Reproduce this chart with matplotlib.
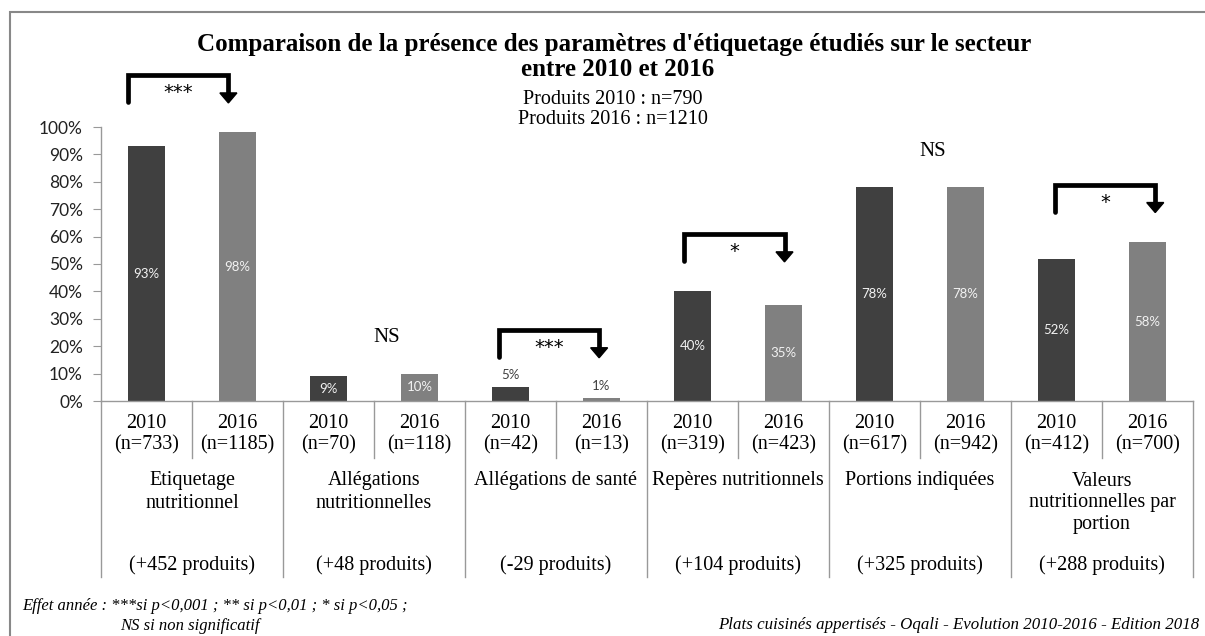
import numpy as np
import matplotlib
matplotlib.use("Agg")
from matplotlib import pyplot as plt
from matplotlib.patches import Rectangle
from matplotlib.ticker import FuncFormatter

# data
categories = ["Etiquetage\nnutritionnel", "Allégations\nnutritionnelles", "Allégations de santé",
              "Repères nutritionnels", "Portions indiquées", "Valeurs\nnutritionnelles par\nportion"]
pct_2010 = [93, 9, 5, 40, 78, 52]
pct_2016 = [98, 10, 1, 35, 78, 58]
n_2010 = [733, 70, 42, 319, 617, 412]
n_2016 = [1185, 118, 13, 423, 942, 700]
diff_labels = ["(+452 produits)", "(+48 produits)", "(-29 produits)",
               "(+104 produits)", "(+325 produits)", "(+288 produits)"]
signif = ["***", "NS", "***", "*", "NS", "*"]
years = ["2010", "2016"]

W, H = 1205, 636
SERIF = "Liberation Serif"
SANS = "Lato"
C2010 = "#404040"
C2016 = "#808080"
GRID = "#999999"

fig = plt.figure(figsize=(W / 100, H / 100), dpi=100)

# axes box in pixels: left 101, right 1193, baseline 401, 100% at 127
x0, x1, y0, y1 = 101, 1193, 401, 127
ax = fig.add_axes([x0 / W, 1 - y0 / H, (x1 - x0) / W, (y0 - y1) / H])
ax.set_xlim(-0.5, 11.5)
ax.set_ylim(0, 1)


def ya(py):
    # pixel row -> axes fraction
    return (y0 - py) / (y0 - y1)


def fy(py):
    return 1 - py / H


ng = len(categories)
bw = 0.41
for g in range(ng):
    for k, (vals, col) in enumerate([(pct_2010, C2010), (pct_2016, C2016)]):
        x = 2 * g + k
        v = vals[g] / 100
        ax.bar(x, v, width=bw, color=col, zorder=2)
        if v > 0.08:
            ax.text(x, v / 2, f"{vals[g]}%", ha="center", va="center", color="#f2f2f2",
                    fontsize=9.5, family=SANS)
        else:
            ax.text(x, v + 0.045, f"{vals[g]}%", ha="center", va="center", color=C2010,
                    fontsize=9.5, family=SANS)

# axis styling
for s in ["top", "right"]:
    ax.spines[s].set_visible(False)
for s in ["left", "bottom"]:
    ax.spines[s].set_color(GRID)
    ax.spines[s].set_linewidth(1)
ax.set_xticks([])
ax.set_yticks(np.arange(0, 1.01, 0.1))
ax.yaxis.set_major_formatter(FuncFormatter(lambda v, p: f"{v * 100:.0f}%"))
ax.tick_params(axis="y", length=6, color=GRID, pad=7, labelsize=12.5)
for lab in ax.get_yticklabels():
    lab.set_family(SANS)
    lab.set_color("#222222")

# category table under the axis
tr = ax.get_xaxis_transform()
for g in range(ng + 1):
    ax.plot([2 * g - 0.5] * 2, [0, ya(577)], color=GRID, lw=1, transform=tr, clip_on=False)
for g in range(ng):
    ax.plot([2 * g + 0.5] * 2, [0, ya(458)], color=GRID, lw=1, transform=tr, clip_on=False)
    for k, nn in enumerate([n_2010[g], n_2016[g]]):
        ax.text(2 * g + k, ya(423), years[k], ha="center", va="center", transform=tr,
                family=SERIF, fontsize=14.5)
        ax.text(2 * g + k, ya(445), f"(n={nn})", ha="center", va="center", transform=tr,
                family=SERIF, fontsize=14.5)
    for j, line in enumerate(categories[g].split("\n")):
        ax.text(2 * g + 0.5, ya(481 + 22 * j), line, ha="center", va="center", transform=tr,
                family=SERIF, fontsize=14.5)
    ax.text(2 * g + 0.5, ya(565), diff_labels[g], ha="center", va="center", transform=tr,
            family=SERIF, fontsize=14.5)

# significance brackets / NS
px_x = 12 / (x1 - x0)
px_y = 1 / (y0 - y1)
for g in range(ng):
    top = max(pct_2010[g], pct_2016[g]) / 100
    if signif[g] == "NS":
        ax.text(2 * g + 0.5 + 0.14, top + 0.13, "NS", ha="center", va="center",
                family=SERIF, fontsize=15)
        continue
    shift = 0.037 * g
    left = 2 * g - 0.2 + shift
    right = 2 * g + 0.9 + shift
    ytop = top + 0.21
    ybot = ytop - 27 * px_y
    ax.plot([left, left, right, right], [ybot, ytop, ytop, ybot + 8 * px_y], color="black",
            lw=3.4, solid_joinstyle="miter", solid_capstyle="round", clip_on=False, zorder=3)
    hw = 8.5 * px_x
    ax.fill([right - hw, right + hw, right], [ybot + 9 * px_y, ybot + 9 * px_y, ybot - 1 * px_y],
            color="black", clip_on=False, zorder=3)
    ax.text((left + right) / 2, ytop - 23 * px_y, signif[g], ha="center", va="baseline",
            family="DejaVu Sans", fontsize=14)

# titles
fig.text(614 / W, fy(44), "Comparaison de la présence des paramètres d'étiquetage étudiés sur le secteur",
         ha="center", va="center", family=SERIF, fontsize=18, weight="bold")
fig.text(618 / W, fy(70), "entre 2010 et 2016", ha="center", va="center", family=SERIF,
         fontsize=18, weight="bold")
fig.text(613 / W, fy(99), "Produits 2010 : n=790", ha="center", va="center", family=SERIF, fontsize=14.5)
fig.text(613 / W, fy(119), "Produits 2016 : n=1210", ha="center", va="center", family=SERIF, fontsize=14.5)

# footnotes
fig.text(22 / W, fy(606), "Effet année : ***si p<0,001 ; ** si p<0,01 ; * si p<0,05 ;",
         ha="left", va="center", family=SERIF, style="italic", fontsize=12)
fig.text(120 / W, fy(626), "NS si non significatif", ha="left", va="center", family=SERIF,
         style="italic", fontsize=12)
fig.text(1199 / W, fy(625), "Plats cuisinés appertisés - Oqali - Evolution 2010-2016 - Edition 2018",
         ha="right", va="center", family=SERIF, style="italic", fontsize=12.2)

# outer frame
fig.patches.append(Rectangle((10 / W, -0.1), 1.2, fy(12) + 0.1, transform=fig.transFigure,
                             fill=False, edgecolor="#888888", lw=1.5))

fig.savefig("out.png", dpi=100)
